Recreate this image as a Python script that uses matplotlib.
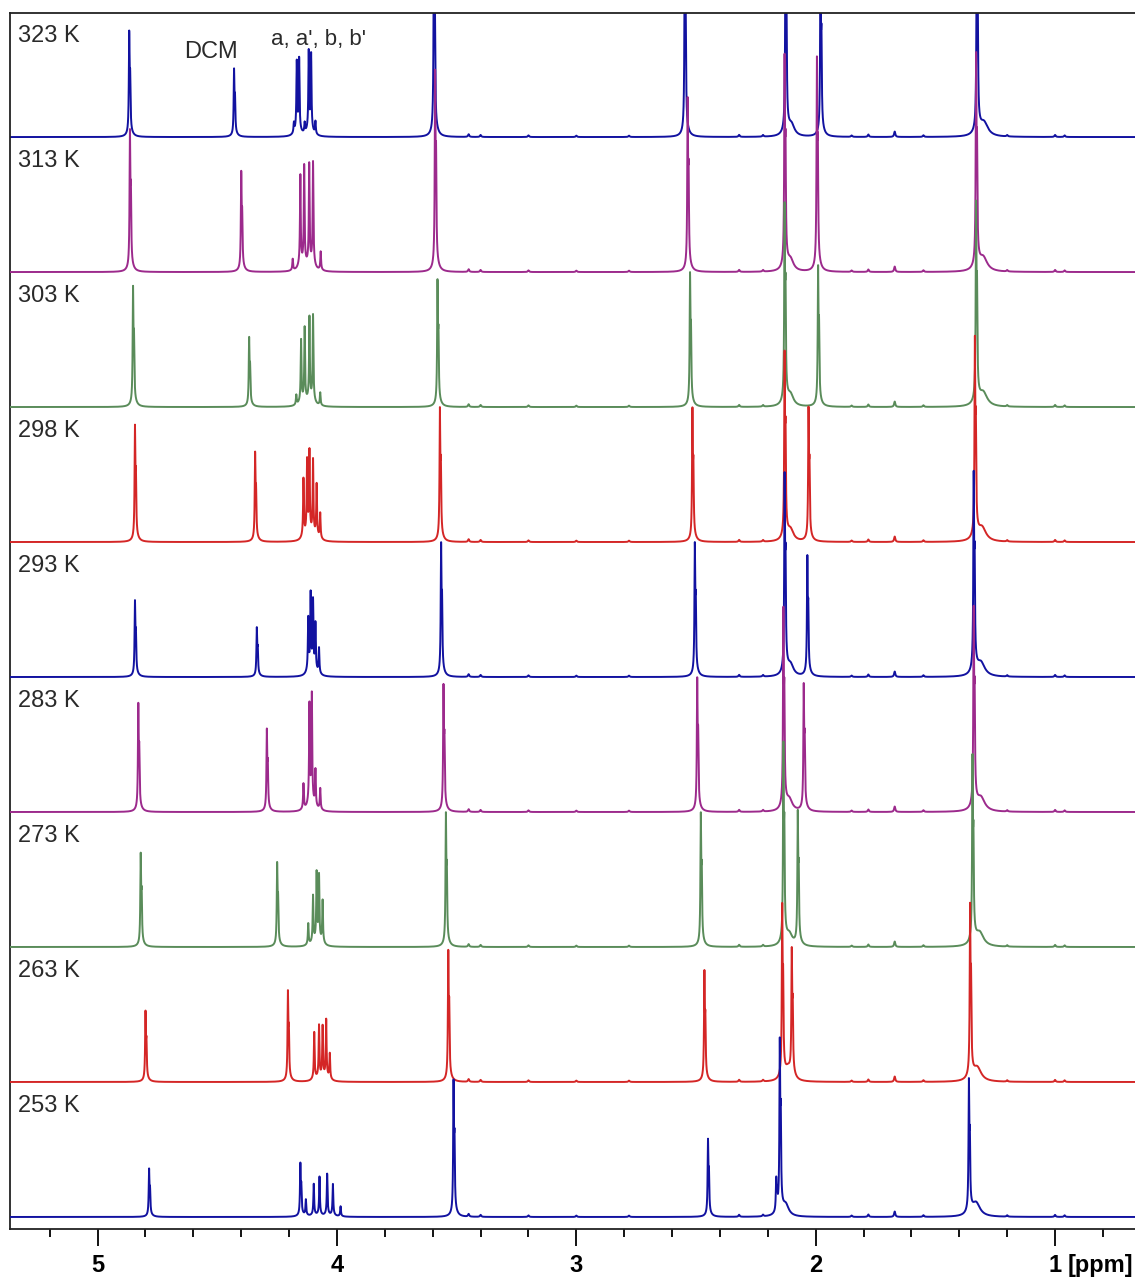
import numpy as np
import matplotlib.pyplot as plt

plt.rcParams['font.family'] = ['Liberation Sans', 'DejaVu Sans']

# Temperatures, top trace first
temps = ['323 K', '313 K', '303 K', '298 K', '293 K', '283 K', '273 K', '263 K', '253 K']
colors = ['#1212a0', '#9c2a8c', '#5a8c5a', '#d42626',
          '#1212a0', '#9c2a8c', '#5a8c5a', '#d42626', '#1212a0']

# Peak shifts (ppm) and heights (in units of the trace spacing), one value per trace
shift_a = [4.868, 4.865, 4.852, 4.844, 4.844, 4.830, 4.820, 4.800, 4.785]
height_a = [0.79, 1.06, 0.90, 0.87, 0.57, 0.81, 0.70, 0.53, 0.36]

shift_dcm = [4.430, 4.400, 4.367, 4.342, 4.335, 4.293, 4.250, 4.205, 4.153]
height_dcm = [0.51, 0.75, 0.52, 0.67, 0.37, 0.62, 0.63, 0.68, 0.40]

shift_b = [3.595, 3.590, 3.580, 3.570, 3.565, 3.555, 3.545, 3.535, 3.513]
height_b = [1.60, 1.50, 0.95, 1.00, 1.00, 0.95, 1.00, 0.98, 1.02]

shift_c = [2.547, 2.535, 2.525, 2.515, 2.505, 2.495, 2.480, 2.465, 2.450]
height_c = [1.50, 1.30, 1.00, 1.00, 1.00, 1.00, 1.00, 0.83, 0.58]

shift_d = [2.126, 2.130, 2.130, 2.130, 2.130, 2.135, 2.135, 2.140, 2.150]
height_d = [1.60, 1.60, 1.50, 1.40, 1.50, 1.50, 1.50, 1.30, 1.30]

shift_e = [1.980, 1.995, 1.990, 2.030, 2.035, 2.050, 2.075, 2.100, 2.165]
height_e = [1.30, 1.60, 1.05, 1.00, 0.90, 0.95, 1.00, 0.95, 0.25]

shift_f = [1.327, 1.330, 1.330, 1.335, 1.340, 1.340, 1.345, 1.355, 1.360]
height_f = [1.60, 1.60, 1.50, 1.50, 1.50, 1.50, 1.40, 1.30, 1.00]

# a, a', b, b' multiplet lines
cluster_shifts = [
    [4.180, 4.168, 4.158, 4.135, 4.118, 4.108, 4.090],
    [4.185, 4.153, 4.137, 4.116, 4.100, 4.068],
    [4.170, 4.150, 4.135, 4.115, 4.100, 4.070],
    [4.140, 4.125, 4.115, 4.100, 4.085, 4.070],
    [4.120, 4.110, 4.100, 4.090, 4.075],
    [4.140, 4.115, 4.105, 4.090, 4.070],
    [4.120, 4.100, 4.085, 4.075, 4.060],
    [4.095, 4.075, 4.060, 4.045, 4.030],
    [4.130, 4.097, 4.073, 4.041, 4.017, 3.985],
]
cluster_heights = [
    [0.07, 0.49, 0.51, 0.07, 0.56, 0.54, 0.09],
    [0.08, 0.64, 0.70, 0.71, 0.73, 0.13],
    [0.07, 0.44, 0.52, 0.59, 0.61, 0.09],
    [0.41, 0.52, 0.58, 0.53, 0.37, 0.18],
    [0.37, 0.53, 0.48, 0.33, 0.18],
    [0.18, 0.70, 0.77, 0.26, 0.15],
    [0.15, 0.33, 0.48, 0.46, 0.30],
    [0.33, 0.37, 0.36, 0.41, 0.18],
    [0.11, 0.22, 0.27, 0.29, 0.22, 0.07],
]

# small impurity lines shared by all traces
small_shifts = [3.450, 3.400, 3.200, 3.000, 2.780, 2.320, 2.220,
                1.850, 1.780, 1.670, 1.550, 1.200, 1.000, 0.960]
small_heights = [0.02, 0.015, 0.012, 0.01, 0.01, 0.015, 0.012,
                 0.01, 0.018, 0.04, 0.012, 0.01, 0.015, 0.012]


def lorentz(x, c, h, w):
    return h / (1 + ((x - c) / w) ** 2)


def line(x, c, h):
    # sharp line with a close shoulder and a small broad foot
    shape = (lorentz(x, c, 1.0, 0.0018) + lorentz(x, c - 0.004, 0.5, 0.0018)
             + lorentz(x, c - 0.004, 0.06, 0.012))
    return h * shape / 1.14


def spectrum(x, i):
    y = np.zeros_like(x)
    mains = [(shift_a[i], height_a[i]), (shift_dcm[i], height_dcm[i]),
             (shift_b[i], height_b[i]), (shift_c[i], height_c[i]),
             (shift_d[i], height_d[i]), (shift_e[i], height_e[i]),
             (shift_f[i], height_f[i])]
    for c, h in mains:
        y += line(x, c, h)
    # tails on the right side of the big solvent lines
    y += lorentz(x, shift_f[i] - 0.03, 0.10, 0.02)
    y += lorentz(x, shift_d[i] - 0.025, 0.08, 0.015)
    for c, h in zip(cluster_shifts[i], cluster_heights[i]):
        y += lorentz(x, c, h, 0.0018)
        y += lorentz(x, c, 0.08 * h, 0.01)
    for c, h in zip(small_shifts, small_heights):
        y += lorentz(x, c, h, 0.003)
    return y


ppm = np.linspace(5.45, 0.6, 24000)

fig = plt.figure(figsize=(11.35, 12.79), dpi=100)
ax = fig.add_axes([10 / 1135, 50 / 1279, 1125 / 1135, 1216 / 1279])

n = len(temps)
for i in range(n):
    offset = n - 1 - i
    ax.plot(ppm, spectrum(ppm, i) + offset, color=colors[i], lw=1.4, zorder=2 + i)
    label_y = min(offset + 0.822, 8.919 - 0.17)
    ax.text(5.333, label_y, temps[i], fontsize=17, color='#2a2a2a',
            ha='left', va='center', zorder=20)

ax.text(4.525, 8.919 - 0.287, 'DCM', fontsize=17, color='#2a2a2a', ha='center', va='center')
ax.text(4.078, 8.919 - 0.2, "a, a', b, b'", fontsize=16, color='#2a2a2a', ha='center', va='center')

ax.set_xlim(5.366, 0.666)
ax.set_ylim(-0.089, 8.919)
ax.set_yticks([])
ax.set_xticks([5, 4, 3, 2, 1])
ax.set_xticklabels(['5', '4', '3', '2', '1'], fontsize=17, fontweight='bold')
ax.set_xticks(np.arange(0.8, 5.4, 0.2), minor=True)
ax.tick_params(axis='x', which='major', direction='out', length=12, width=1.3, pad=6)
ax.tick_params(axis='x', which='minor', direction='out', length=6, width=1.3)
ax.annotate('[ppm]', xy=(1, 0), xycoords=('data', 'axes fraction'),
            xytext=(9, -26), textcoords='offset points', fontsize=17,
            fontweight='bold', ha='left', va='center', annotation_clip=False)

for side in ['top', 'left', 'bottom']:
    ax.spines[side].set_linewidth(1.3)
    ax.spines[side].set_color('#222222')
ax.spines['right'].set_visible(False)

fig.savefig('out.png', dpi=100)
